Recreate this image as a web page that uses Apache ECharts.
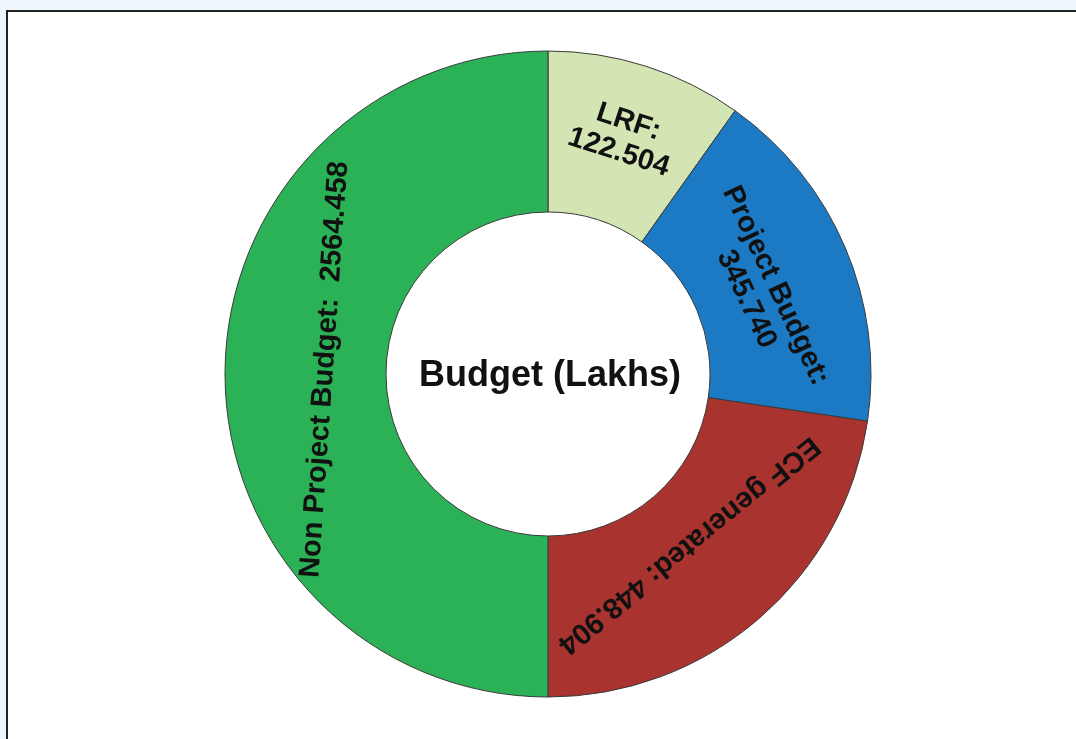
<!DOCTYPE html>
<html>
<head>
<meta charset="utf-8">
<script src="https://cdn.jsdelivr.net/npm/echarts@6/dist/echarts.min.js"></script>
<style>
  html, body { margin: 0; padding: 0; width: 1076px; height: 739px; overflow: hidden; background: #eef7fc; }
  #frame { position: absolute; left: 6px; top: 10px; width: 1090px; height: 760px; border: 2px solid #222; background: #ffffff; }
  #chart { position: absolute; left: 0; top: 0; width: 1076px; height: 739px; }
</style>
</head>
<body>
<div id="frame"></div>
<div id="chart"></div>
<script>
// Categories (clockwise from the top)
const categories = ['LRF', 'Project Budget', 'ECF generated', 'Non Project Budget'];
// Values printed on the slices (Lakhs)
const labelValues = ['122.504', '345.740', '448.904', '2564.458'];
// Arc share of each slice as drawn in the picture (degrees of the ring)
const sliceShares = [35.4, 63.0, 81.6, 180.0];
const centerTitle = 'Budget (Lakhs)';

// styles (kept separate from the data)
const colors = ['#d3e5b3', '#1b7ac3', '#a8332f', '#2bb256'];
const separators = [':\n', ':\n', ': ', ':  '];
const rotations = [-18, -65, -141, 86];
// label nudges in the label's own rotated frame: [along text, across text]
const labelShifts = [[0, -3], [8, 18], [6, 24], [6, 22]];

const data = categories.map((name, i) => ({
  name: name,
  value: sliceShares[i],
  itemStyle: { color: colors[i] },
  label: {
    rotate: rotations[i],
    formatter: name + separators[i] + labelValues[i]
  }
}));

const chart = echarts.init(document.getElementById('chart'), null, { renderer: 'canvas' });
chart.setOption({
  animation: false,
  backgroundColor: 'transparent',
  title: {
    text: centerTitle,
    left: 550,
    top: 376,
    textAlign: 'center',
    textVerticalAlign: 'middle',
    padding: 0,
    textStyle: { fontFamily: 'Liberation Sans, Arial, sans-serif', fontSize: 36, fontWeight: 'bold', color: '#111' }
  },
  series: [{
    type: 'pie',
    center: [548, 374],
    radius: [162, 323],
    startAngle: 90,
    clockwise: true,
    avoidLabelOverlap: false,
    silent: true,
    itemStyle: { borderColor: '#3a3a3a', borderWidth: 1 },
    label: {
      show: true,
      position: 'inside',
      fontFamily: 'Liberation Sans, Arial, sans-serif',
      fontSize: 29,
      fontWeight: 'bold',
      lineHeight: 32,
      color: '#111',
      align: 'center'
    },
    labelLayout: function (params) {
      const s = labelShifts[params.dataIndex];
      return { dx: s[0], dy: s[1] };
    },
    labelLine: { show: false },
    emphasis: { disabled: true },
    data: data
  }]
});
</script>
</body>
</html>
